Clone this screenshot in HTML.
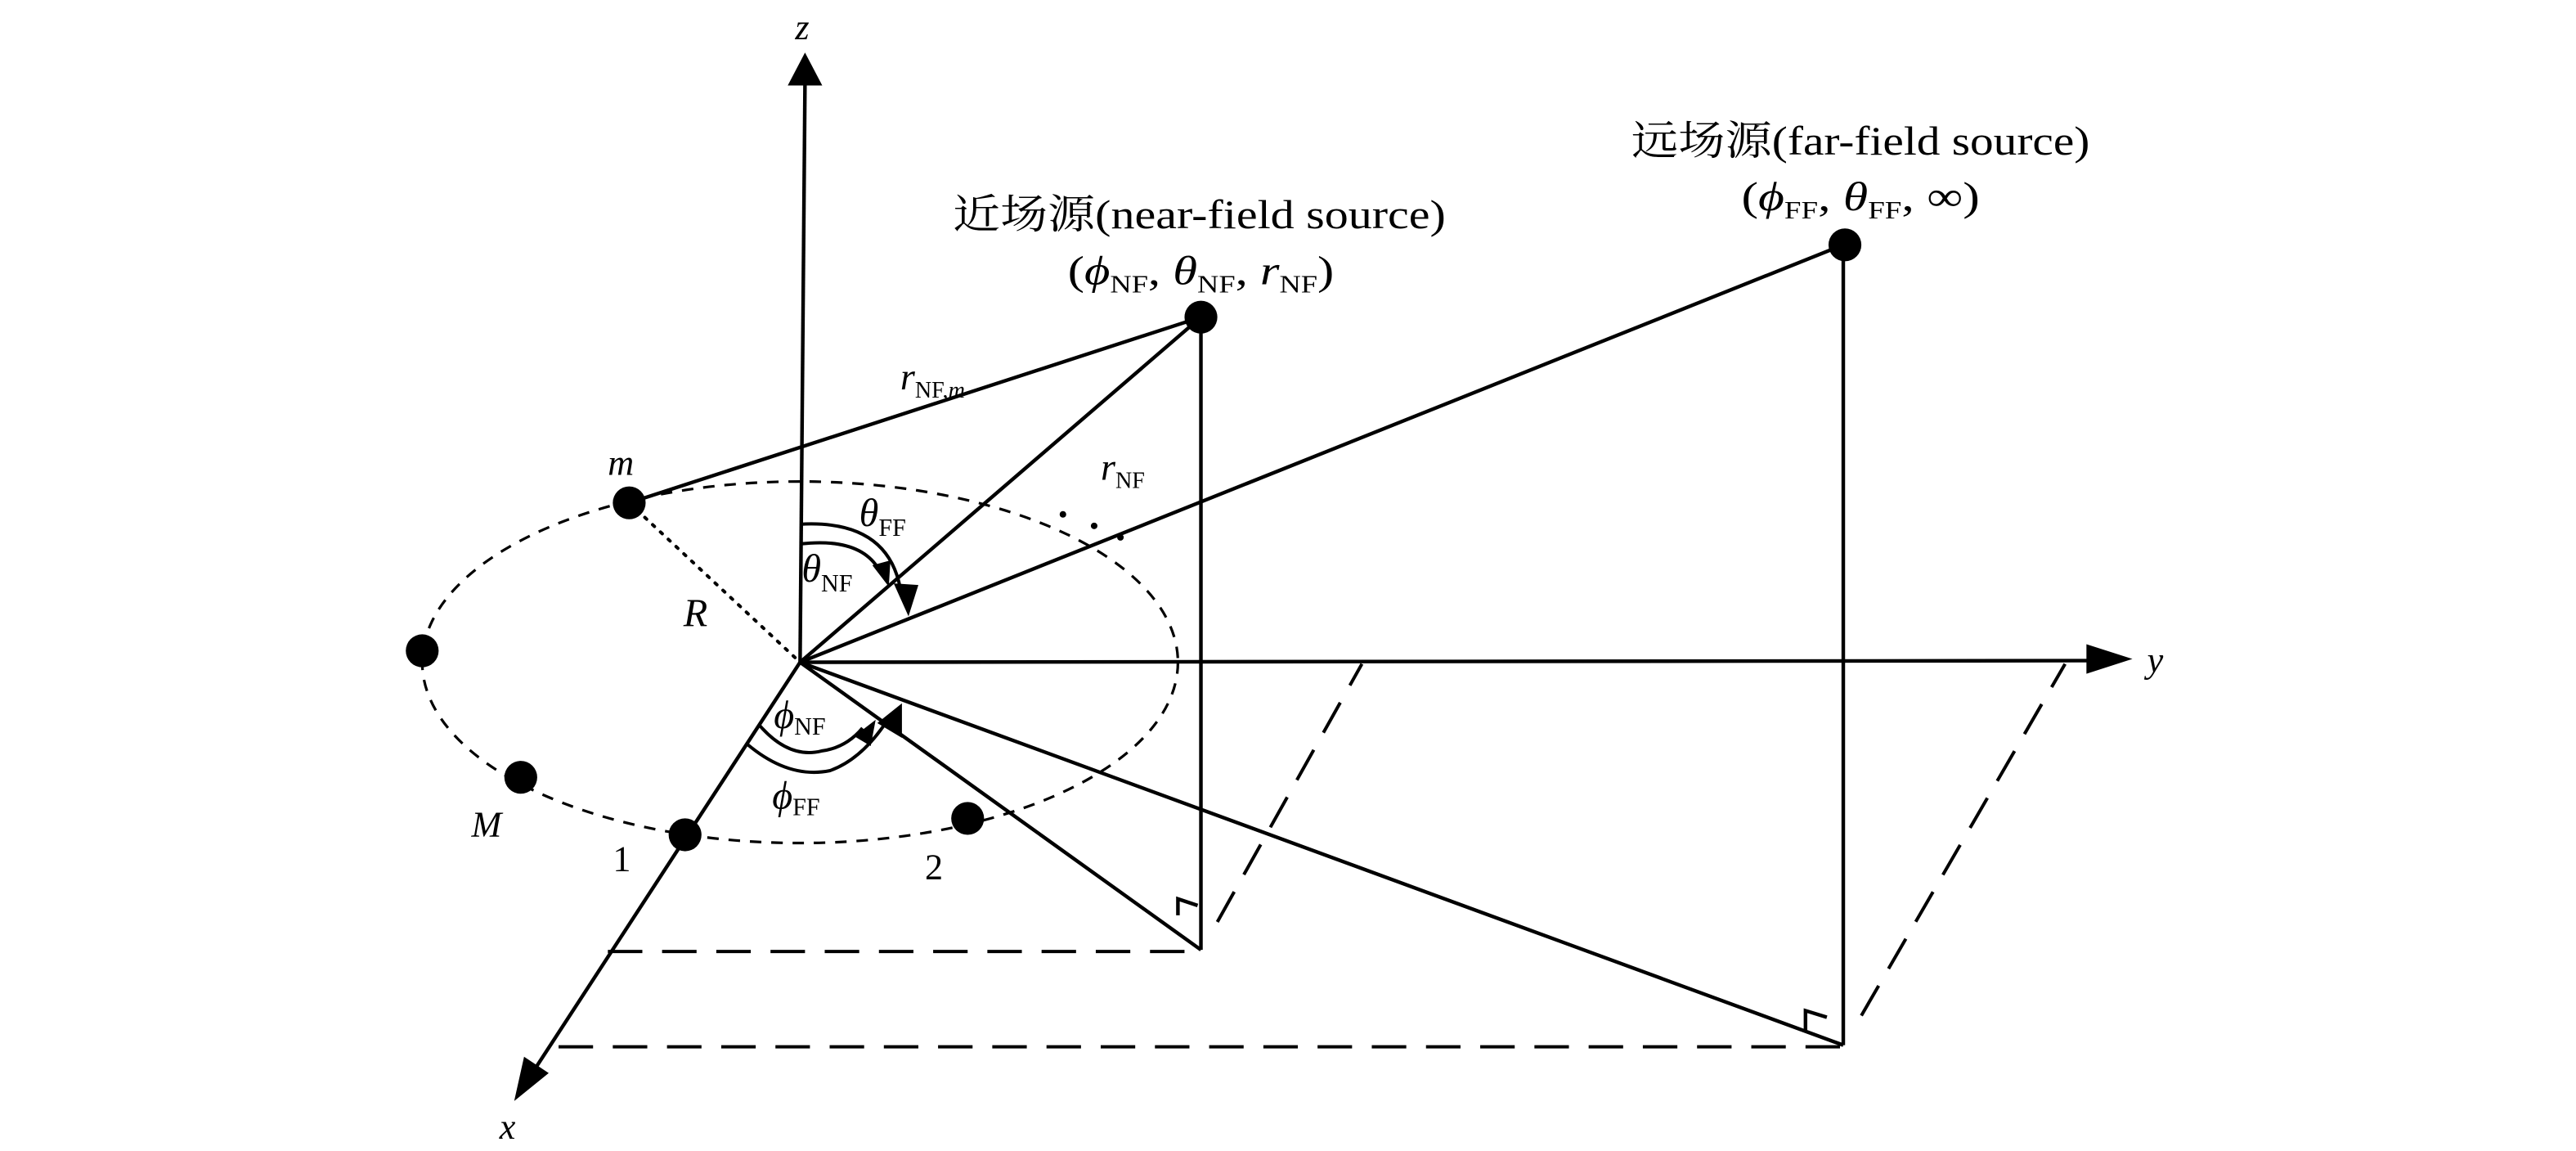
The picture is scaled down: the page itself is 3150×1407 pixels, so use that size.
<!DOCTYPE html>
<html><head><meta charset="utf-8"><style>
html,body{margin:0;padding:0;background:#fff;}
svg{display:block;}
text{font-family:"Liberation Serif","Noto Serif CJK SC","Noto Sans CJK SC",serif;fill:#000;}
.i{font-style:italic;}
</style></head><body>
<svg width="3150" height="1407" viewBox="0 0 1568 700.4" preserveAspectRatio="none" xmlns="http://www.w3.org/2000/svg">
<g stroke="#000" stroke-width="2.2" fill="none" stroke-linecap="butt">
<line x1="487" y1="403" x2="490" y2="50"/>
<line x1="487" y1="403" x2="1278" y2="402"/>
<line x1="487" y1="403" x2="322" y2="656"/>
<ellipse cx="487" cy="403" rx="230" ry="110" stroke-width="1.6" stroke-dasharray="7,6"/>
<line x1="383" y1="306" x2="731" y2="193"/>
<line x1="487" y1="403" x2="731" y2="193"/>
<line x1="731" y1="193" x2="731" y2="578"/>
<line x1="487" y1="403" x2="1122" y2="149"/>
<line x1="1122" y1="149" x2="1122" y2="636"/>
<line x1="487" y1="403" x2="731" y2="578"/>
<line x1="487" y1="403" x2="1122" y2="636"/>
<line x1="383" y1="306" x2="487" y2="403" stroke-width="2" stroke-dasharray="1.5,5" stroke-linecap="round"/>
<line x1="370" y1="579" x2="731" y2="579" stroke-width="2" stroke-dasharray="21,12"/>
<line x1="741" y1="561" x2="829" y2="404" stroke-width="2" stroke-dasharray="21,12"/>
<line x1="340" y1="637" x2="1122" y2="637" stroke-width="2" stroke-dasharray="21,12"/>
<line x1="1133" y1="618" x2="1257" y2="404" stroke-width="2" stroke-dasharray="21,12"/>
<polyline points="717,557 717,547 729,551"/>
<polyline points="1099,627 1099,615 1112,619"/>
<path d="M487 319 Q540 316 548 358" stroke-width="2"/>
<path d="M487 331 Q522 327 534 345" stroke-width="2"/>
<path d="M462 441 Q480 462 500 457 Q515 455 525 443" stroke-width="2"/>
<path d="M455 453 Q480 474 505 469 Q525 462 541 437" stroke-width="2"/>
</g>
<g fill="#000">
<polygon points="490,32 479.5,52 500.5,52"/>
<polygon points="1298,401 1270,392 1270,410"/>
<polygon points="313,670 319,643 334,653"/>
<polygon points="553,375 544,355 559,356"/>
<polygon points="541,357 531,344 542,341"/>
<polygon points="533,438 520,448 530,454"/>
<polygon points="549,428 534,440 549,449"/>
<circle cx="383" cy="306" r="10"/>
<circle cx="257" cy="396" r="10"/>
<circle cx="317" cy="473" r="10"/>
<circle cx="417" cy="508" r="10"/>
<circle cx="589" cy="498" r="10"/>
<circle cx="731" cy="193" r="10"/>
<circle cx="1123" cy="149" r="10"/>
<circle cx="647" cy="313" r="2"/>
<circle cx="666" cy="320" r="2"/>
<circle cx="682" cy="327" r="2"/>
</g>
<text x="484" y="24" font-size="22" class="i">z</text>
<text x="1307" y="409" font-size="22" class="i">y</text>
<text x="304" y="693" font-size="22" class="i">x</text>
<text x="580" y="139" font-size="25" textLength="300" lengthAdjust="spacingAndGlyphs">近场源(near-field source)</text>
<text x="650" y="173" font-size="25" textLength="162" lengthAdjust="spacingAndGlyphs">(<tspan class="i">ϕ</tspan><tspan font-size="15" dy="5">NF</tspan><tspan dy="-5">, </tspan><tspan class="i">θ</tspan><tspan font-size="15" dy="5">NF</tspan><tspan dy="-5">, </tspan><tspan class="i">r</tspan><tspan font-size="15" dy="5">NF</tspan><tspan dy="-5">)</tspan></text>
<text x="993" y="94" font-size="25" textLength="279" lengthAdjust="spacingAndGlyphs">远场源(far-field source)</text>
<text x="1060" y="128" font-size="25" textLength="145" lengthAdjust="spacingAndGlyphs">(<tspan class="i">ϕ</tspan><tspan font-size="15" dy="5">FF</tspan><tspan dy="-5">, </tspan><tspan class="i">θ</tspan><tspan font-size="15" dy="5">FF</tspan><tspan dy="-5">, ∞)</tspan></text>
<text x="548" y="237" font-size="23"><tspan class="i">r</tspan><tspan font-size="14" dy="5">NF,</tspan><tspan font-size="14" class="i">m</tspan></text>
<text x="670" y="292" font-size="23"><tspan class="i">r</tspan><tspan font-size="14" dy="5">NF</tspan></text>
<text x="523" y="320" font-size="24"><tspan class="i">θ</tspan><tspan font-size="15" dy="6">FF</tspan></text>
<text x="488" y="354" font-size="24"><tspan class="i">θ</tspan><tspan font-size="15" dy="6">NF</tspan></text>
<text x="416" y="381" font-size="24" class="i">R</text>
<text x="471" y="443" font-size="24"><tspan class="i">ϕ</tspan><tspan font-size="15" dy="4">NF</tspan></text>
<text x="470" y="492" font-size="24"><tspan class="i">ϕ</tspan><tspan font-size="15" dy="4">FF</tspan></text>
<text x="370" y="289" font-size="22" class="i">m</text>
<text x="287" y="509" font-size="22" class="i">M</text>
<text x="373" y="530" font-size="22">1</text>
<text x="563" y="535" font-size="22">2</text>
</svg>
</body></html>
